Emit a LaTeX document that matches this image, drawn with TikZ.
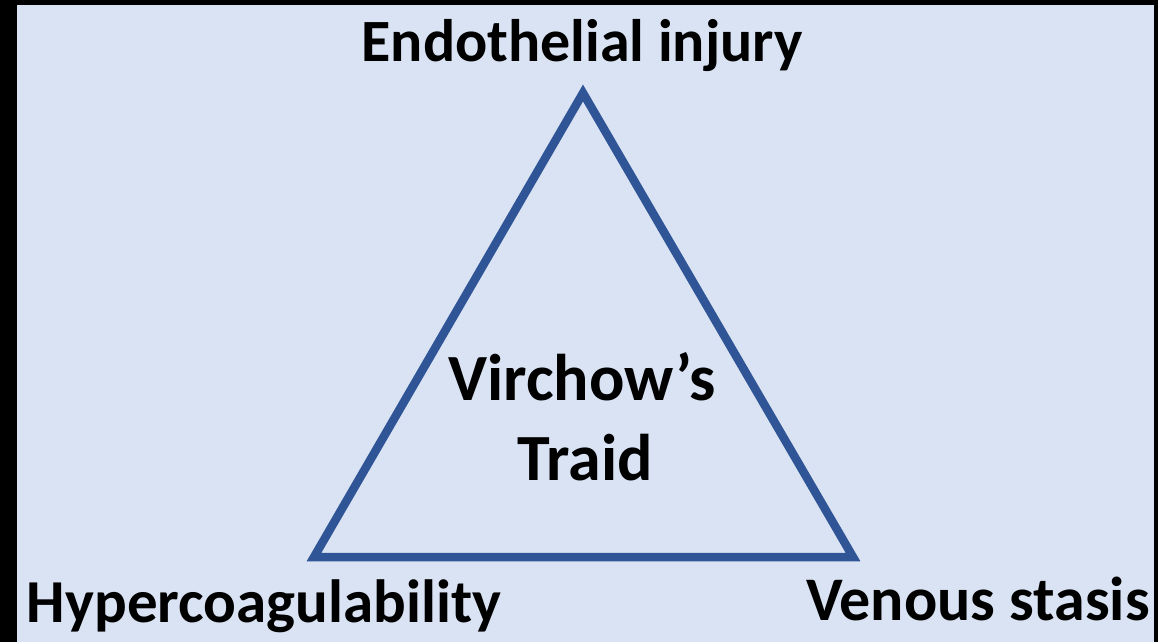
\documentclass[tikz,border=0pt]{standalone}
\usepackage{fontspec}
\setmainfont{Carlito}
\definecolor{bgblue}{HTML}{DAE3F3}
\definecolor{triblue}{HTML}{2F5597}
\begin{document}
\begin{tikzpicture}[x=1pt,y=-1pt,
  lbl/.style={inner sep=0pt,anchor=base,font=\fontsize{60}{70}\selectfont\bfseries},
  lblb/.style={inner sep=0pt,anchor=base,font=\fontsize{61}{70}\selectfont\bfseries},
  center/.style={inner sep=0pt,anchor=base,font=\fontsize{66}{78}\selectfont\bfseries},
  edge/.style={draw=triblue,line width=8.5pt,line join=miter}]
\useasboundingbox (0,0) rectangle (1158,642);
\fill[black] (0,0) rectangle (1158,642);
\fill[bgblue] (17,5) rectangle (1154,642);
\coordinate (top) at (583,93);
\coordinate (bl) at (314,557);
\coordinate (br) at (853,557);
\draw[edge] (top) -- (bl) -- (br) -- cycle;
\node[lbl] (endo) at (582,62) {Endothelial injury};
\node[lblb] (hyper) at (264,622) {Hypercoagulability};
\node[lblb,font=\fontsize{62}{70}\selectfont\bfseries] (venous) at (978,620) {Venous stasis};
\node[center] (vir) at (582,400) {Virchow’s};
\node[center] (traid) at (585,480) {Traid};
\end{tikzpicture}
\end{document}
